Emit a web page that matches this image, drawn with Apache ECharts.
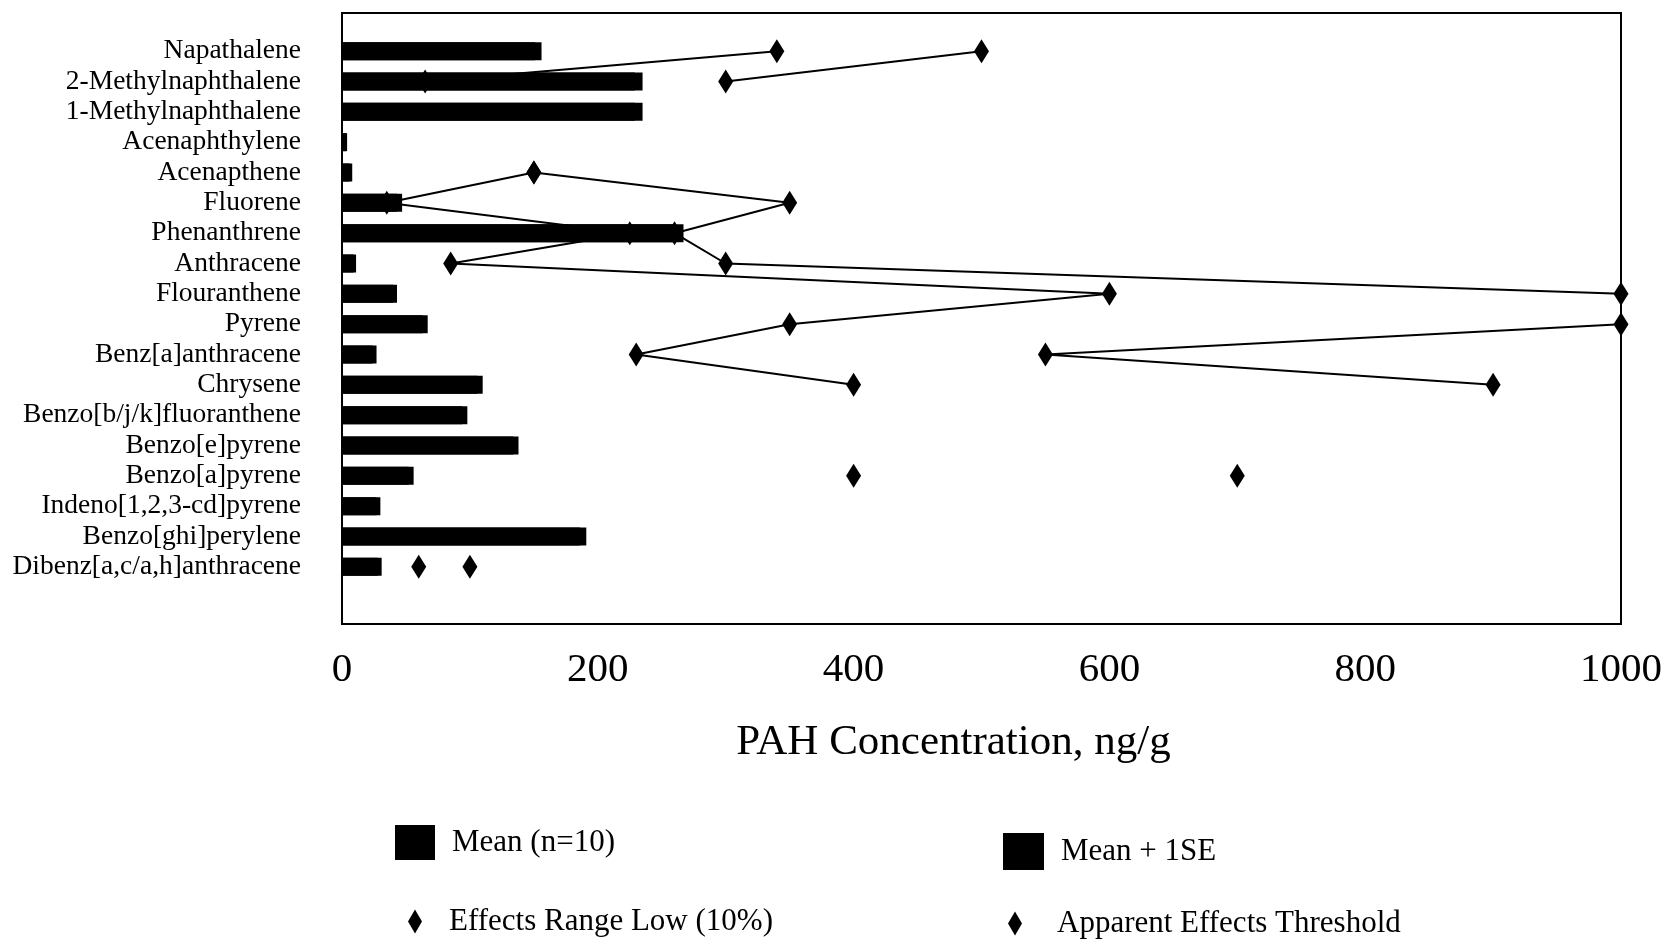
<!DOCTYPE html>
<html>
<head>
<meta charset="utf-8">
<script src="https://cdn.jsdelivr.net/npm/echarts@6/dist/echarts.min.js"></script>
<style>
html,body{margin:0;padding:0;background:#fff;}
#chart{width:1674px;height:945px;}
</style>
</head>
<body>
<div id="chart"></div>
<script>
const categories = [
  'Napathalene','2-Methylnaphthalene','1-Methylnaphthalene','Acenaphthylene','Acenapthene',
  'Fluorene','Phenanthrene','Anthracene','Flouranthene','Pyrene','Benz[a]anthracene',
  'Chrysene','Benzo[b/j/k]fluoranthene','Benzo[e]pyrene','Benzo[a]pyrene',
  'Indeno[1,2,3-cd]pyrene','Benzo[ghi]perylene','Dibenz[a,c/a,h]anthracene'
];
const meanValues   = [151, 229, 229, 3, 6, 43, 261, 9, 40, 63, 24, 106, 94, 134, 52, 27, 186, 28];
const meanSEValues = [156, 235, 235, 4, 8, 47, 267, 11, 43, 67, 27, 110, 98, 138, 56, 30, 191, 31];
const erlValues = [340, 65, '-', '-', 150, 35, 225, 85, 600, 350, 230, 400, '-', '-', 400, '-', '-', 60];
const aetValues = [500, 300, '-', '-', 150, 350, 260, 300, 1000, 1000, 550, 900, '-', '-', 700, '-', '-', 100];
const xTicks = {min: 0, max: 1000, interval: 200};

const FONT = '"Liberation Serif", "DejaVu Serif", serif';
const diamondPath = 'path://M0,-12 L7,0 L0,12 L-7,0 Z';

const chart = echarts.init(document.getElementById('chart'), null, {renderer: 'canvas'});
const option = {
  backgroundColor: '#fff',
  animation: false,
  textStyle: {fontFamily: FONT, color: '#000'},
  grid: [
    {left: 342, right: 53, top: 13, bottom: 321, show: true, borderColor: '#000', borderWidth: 2, backgroundColor: 'transparent'},
    {left: 342, right: 53, top: 36, bottom: 363}
  ],
  xAxis: [
    {
      gridIndex: 0, type: 'value', min: xTicks.min, max: xTicks.max, interval: xTicks.interval,
      axisLine: {show: false}, axisTick: {show: false}, splitLine: {show: false},
      axisLabel: {fontSize: 41, fontFamily: FONT, color: '#000', margin: 26, formatter: function (v) { return String(v); }},
      name: 'PAH Concentration, ng/g', nameLocation: 'middle', nameGap: 97,
      nameTextStyle: {fontSize: 43, fontFamily: FONT, color: '#000', padding: [0, 56, 0, 0]}
    },
    {gridIndex: 1, type: 'value', min: xTicks.min, max: xTicks.max, interval: xTicks.interval, show: false}
  ],
  yAxis: [
    {gridIndex: 0, type: 'value', show: false},
    {
      gridIndex: 1, type: 'category', data: categories, inverse: true,
      axisLine: {show: false}, axisTick: {show: false}, splitLine: {show: false},
      axisLabel: {fontSize: 27.5, fontFamily: FONT, color: '#000', margin: 41, interval: 0}
    }
  ],
  legend: [
    {data: [{name: 'Mean (n=10)', icon: 'rect'}], left: 390, top: 820, itemWidth: 40, itemHeight: 35,
     textStyle: {fontSize: 31, fontFamily: FONT, color: '#000', padding: [8, 0, 0, 12]}},
    {data: [{name: 'Mean + 1SE', icon: 'rect'}], left: 998, top: 828, itemWidth: 41, itemHeight: 37,
     textStyle: {fontSize: 31, fontFamily: FONT, color: '#000', padding: [8, 0, 0, 12]}},
    {data: [{name: 'Effects Range Low (10%)', icon: diamondPath}], left: 403, top: 901, itemWidth: 50, itemHeight: 24,
     textStyle: {fontSize: 31, fontFamily: FONT, color: '#000', padding: [4, 0, 0, 4]}},
    {data: [{name: 'Apparent Effects Threshold', icon: diamondPath}], left: 1003, top: 903, itemWidth: 50, itemHeight: 24,
     textStyle: {fontSize: 31, fontFamily: FONT, color: '#000', padding: [14, 0, 0, 12]}}
  ],
  series: [
    {name: 'Mean + 1SE', type: 'bar', xAxisIndex: 1, yAxisIndex: 1, data: meanSEValues,
     barWidth: 18, itemStyle: {color: '#000'}, z: 2},
    {name: 'Mean (n=10)', type: 'bar', xAxisIndex: 1, yAxisIndex: 1, data: meanValues,
     barWidth: 18, barGap: '-100%', itemStyle: {color: '#000'}, z: 2},
    {name: 'Effects Range Low (10%)', type: 'line', xAxisIndex: 1, yAxisIndex: 1, data: erlValues,
     symbol: 'diamond', symbolSize: [15, 24], connectNulls: false,
     lineStyle: {color: '#000', width: 2}, itemStyle: {color: '#000'}, color: '#000', z: 3},
    {name: 'Apparent Effects Threshold', type: 'line', xAxisIndex: 1, yAxisIndex: 1, data: aetValues,
     symbol: 'diamond', symbolSize: [15, 24], connectNulls: false,
     lineStyle: {color: '#000', width: 2}, itemStyle: {color: '#000'}, color: '#000', z: 3}
  ]
};
chart.setOption(option);
</script>
</body>
</html>
